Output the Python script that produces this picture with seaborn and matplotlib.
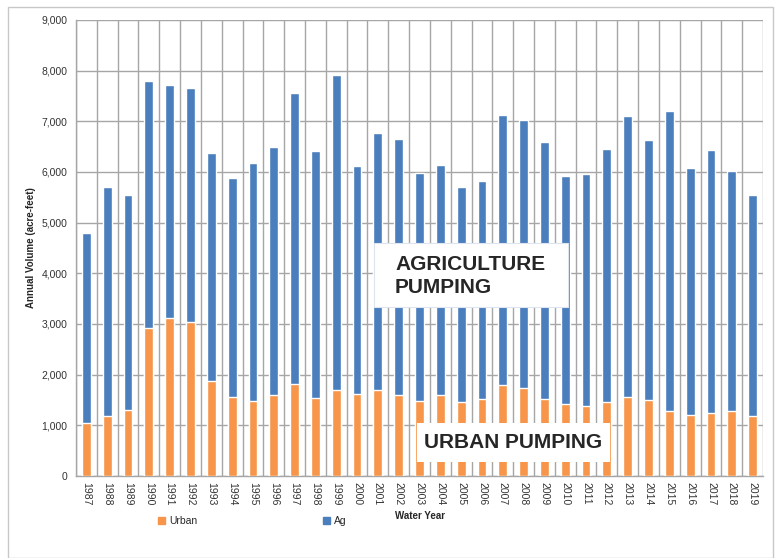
import matplotlib
matplotlib.use("Agg")
import matplotlib.pyplot as plt
import seaborn as sns
import pandas as pd
from matplotlib.patches import Rectangle, Patch

years = [str(y) for y in range(1987, 2020)]
total = [4800, 5700, 5550, 7800, 7720, 7660, 6370, 5880, 6170, 6500,
         7560, 6420, 7920, 6120, 6760, 6660, 5980, 6130, 5710, 5830,
         7120, 7030, 6600, 5930, 5960, 6450, 7110, 6640, 7200, 6080,
         6440, 6020, 5550]
urban = [1040, 1180, 1300, 2920, 3110, 3030, 1870, 1550, 1490, 1600,
         1810, 1545, 1700, 1620, 1700, 1600, 1490, 1600, 1470, 1520,
         1800, 1740, 1520, 1420, 1385, 1470, 1550, 1500, 1290, 1200,
         1250, 1290, 1180]
ag = [t - u for t, u in zip(total, urban)]
yticks = list(range(0, 9001, 1000))

BLUE = "#4A7EBD"
ORANGE = "#F7964A"
GRID = "#A6A6A6"

sns.set_style("white")
plt.rcParams['font.family'] = ['Liberation Sans', 'DejaVu Sans']

df = pd.DataFrame({"year": years, "urban": urban, "ag": ag,
                   "total": [u + a for u, a in zip(urban, ag)]})

fig = plt.figure(figsize=(7.75, 5.58), dpi=100)
fig.patches.append(Rectangle((8 / 775, 0), (773 - 8) / 775, 1 - 7 / 558,
                             transform=fig.transFigure, fill=False,
                             edgecolor="#C8C8C8", linewidth=1.0))
ax = fig.add_axes([76 / 775, 1 - 476 / 558, (763 - 76) / 775, (476 - 20) / 558])

sns.barplot(data=df, x="year", y="total", color=BLUE, width=0.42,
            saturation=1, ax=ax, zorder=3)
sns.barplot(data=df, x="year", y="urban", color=ORANGE, width=0.42,
            saturation=1, ax=ax, zorder=4)

n = len(years)
ax.set_xlim(-0.5, n - 0.5)
ax.set_ylim(0, 9000)
ax.set_yticks(yticks)
ax.set_yticklabels([f"{v:,}" for v in yticks], fontsize=7.5, color="#333333")
ax.set_xticks(range(n))
ax.set_xticklabels(years, rotation=-90, fontsize=7.5, color="#333333")
ax.tick_params(axis="x", length=0, pad=4)
ax.set_xticks([i - 0.5 for i in range(n + 1)], minor=True)
ax.tick_params(axis="x", which="minor", length=4, color=GRID, width=1)
ax.tick_params(axis="y", length=4, color=GRID, width=1, pad=2)
ax.grid(True, axis="y", color=GRID, linewidth=1, zorder=0)
ax.grid(True, axis="x", which="minor", color=GRID, linewidth=1, zorder=0)
ax.set_axisbelow(True)
for s in ["top", "right"]:
    ax.spines[s].set_visible(False)
for s in ["left", "bottom"]:
    ax.spines[s].set_color(GRID)
    ax.spines[s].set_linewidth(1)

ax.set_xlabel("")
ax.set_ylabel("Annual Volume (acre-feet)", fontsize=7, fontweight="bold", labelpad=4)
fig.text(420 / 775, 1 - 516 / 558, "Water Year", ha="center", va="center",
         fontsize=7, fontweight="bold")

fig.legend(handles=[Patch(color=ORANGE, label="Urban")], loc="center",
           bbox_to_anchor=(178 / 775, 1 - 521 / 558),
           frameon=False, fontsize=7.5, handlelength=0.7, handleheight=0.7,
           handletextpad=0.4)
fig.legend(handles=[Patch(color=BLUE, label="Ag")], loc="center",
           bbox_to_anchor=(335 / 775, 1 - 521 / 558),
           frameon=False, fontsize=7.5, handlelength=0.7, handleheight=0.7,
           handletextpad=0.4)

# annotation boxes
fig.patches.append(Rectangle((374 / 775, 1 - 307 / 558), (568 - 374) / 775, (307 - 243) / 558,
                             transform=fig.transFigure, facecolor="white",
                             edgecolor="#DDE6F0", linewidth=0.8, zorder=10))
fig.text(395 / 775, 1 - 276 / 558, "AGRICULTURE\nPUMPING", ha="left", va="center",
         fontsize=15, fontweight="bold", linespacing=1.3, zorder=11)
fig.patches.append(Rectangle((417 / 775, 1 - 462 / 558), (610 - 417) / 775, (462 - 423) / 558,
                             transform=fig.transFigure, facecolor="white",
                             edgecolor="none", zorder=10))
fig.text(424 / 775, 1 - 442 / 558, "URBAN PUMPING", ha="left", va="center",
         fontsize=15, fontweight="bold", zorder=11)

fig.savefig("out.png", dpi=100)
